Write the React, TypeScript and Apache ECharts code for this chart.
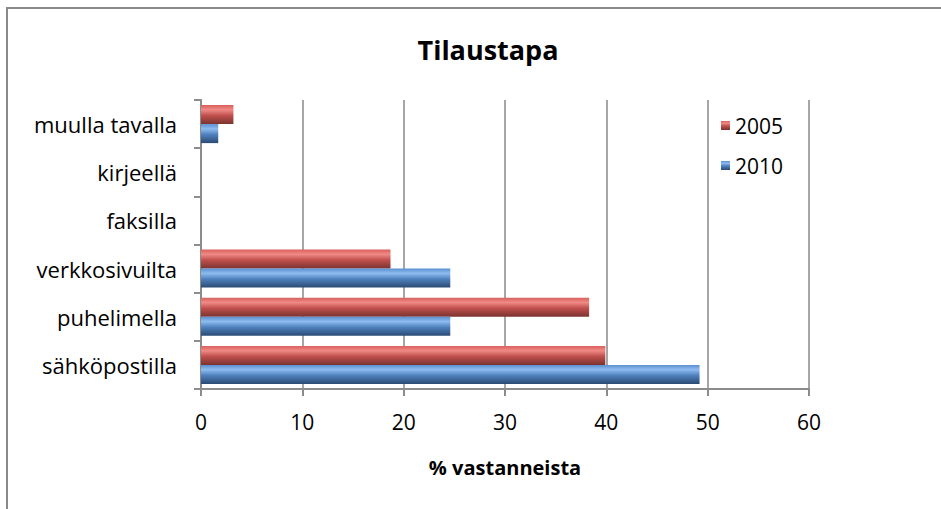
import React, { useEffect, useRef } from "react";
import * as echarts from "echarts";

const categories = ["sähköpostilla", "puhelimella", "verkkosivuilta", "faksilla", "kirjeellä", "muulla tavalla"];
const values2005 = [39.9, 38.3, 18.7, 0, 0, 3.2];
const values2010 = [49.2, 24.6, 24.6, 0, 0, 1.7];
const xTicks = { min: 0, max: 60, interval: 10 };

const FONT = "'Open Sans', 'Liberation Sans', sans-serif";

const redGrad = new echarts.graphic.LinearGradient(0, 0, 0, 1, [
  { offset: 0, color: "#d9605c" },
  { offset: 0.25, color: "#f08a86" },
  { offset: 0.55, color: "#c0504d" },
  { offset: 1, color: "#7a3330" },
]);
const blueGrad = new echarts.graphic.LinearGradient(0, 0, 0, 1, [
  { offset: 0, color: "#5a8fd0" },
  { offset: 0.25, color: "#8ebcf0" },
  { offset: 0.55, color: "#4f81bd" },
  { offset: 1, color: "#2a4a73" },
]);

export default function App() {
  const ref = useRef<HTMLDivElement>(null);
  useEffect(() => {
    if (!ref.current) return;
    const chart = echarts.init(ref.current, undefined, { renderer: "svg" });
    chart.setOption({
      animation: false,
      backgroundColor: "#ffffff",
      textStyle: { fontFamily: FONT },
      title: {
        text: "Tilaustapa",
        left: 483,
        textAlign: "center",
        top: 31,
        textStyle: { fontSize: 27, fontWeight: "bold", color: "#000", fontFamily: FONT },
      },
      graphic: [
        {
          type: "rect",
          shape: { x: 7, y: 8, width: 1000, height: 600 },
          style: { fill: "none", stroke: "#8a8a8a", lineWidth: 2 },
          silent: true,
        },
      ],
      legend: {
        data: ["2005", "2010"],
        orient: "vertical",
        left: 716,
        top: 110,
        itemWidth: 9,
        itemHeight: 9,
        itemGap: 19,
        icon: "rect",
        textStyle: { fontSize: 21, color: "#000", fontFamily: FONT },
      },
      grid: { left: 201, right: 132, top: 100, bottom: 120, containLabel: false },
      xAxis: {
        type: "value",
        min: xTicks.min,
        max: xTicks.max,
        interval: xTicks.interval,
        name: "% vastanneista",
        nameLocation: "middle",
        nameGap: 68,
        nameTextStyle: { fontSize: 20, fontWeight: "bold", color: "#000", fontFamily: FONT },
        axisLine: { show: true, lineStyle: { color: "#8c8c8c", width: 2 } },
        axisTick: { show: true, length: 7, lineStyle: { color: "#8c8c8c", width: 2 } },
        axisLabel: { fontSize: 21, color: "#000", margin: 22, fontFamily: FONT },
        splitLine: { show: true, lineStyle: { color: "#a6a6a6", width: 2 } },
      },
      yAxis: {
        type: "category",
        data: categories,
        axisLine: { show: true, lineStyle: { color: "#8c8c8c", width: 2 } },
        axisTick: { show: true, length: 7, lineStyle: { color: "#8c8c8c", width: 2 } },
        axisLabel: { fontSize: 22, color: "#000", margin: 24, fontFamily: FONT },
      },
      series: [
        {
          name: "2005",
          type: "bar",
          data: values2005,
          barGap: "0%",
          barCategoryGap: "21%",
          itemStyle: { color: redGrad, borderWidth: 0 },
        },
        {
          name: "2010",
          type: "bar",
          data: values2010,
          barGap: "0%",
          barCategoryGap: "21%",
          itemStyle: { color: blueGrad, borderWidth: 0 },
        },
      ],
    });
    return () => chart.dispose();
  }, []);
  return (
    <div
      ref={ref}
      style={{ position: "fixed", left: 0, top: 0, width: 941, height: 509 }}
    />
  );
}
